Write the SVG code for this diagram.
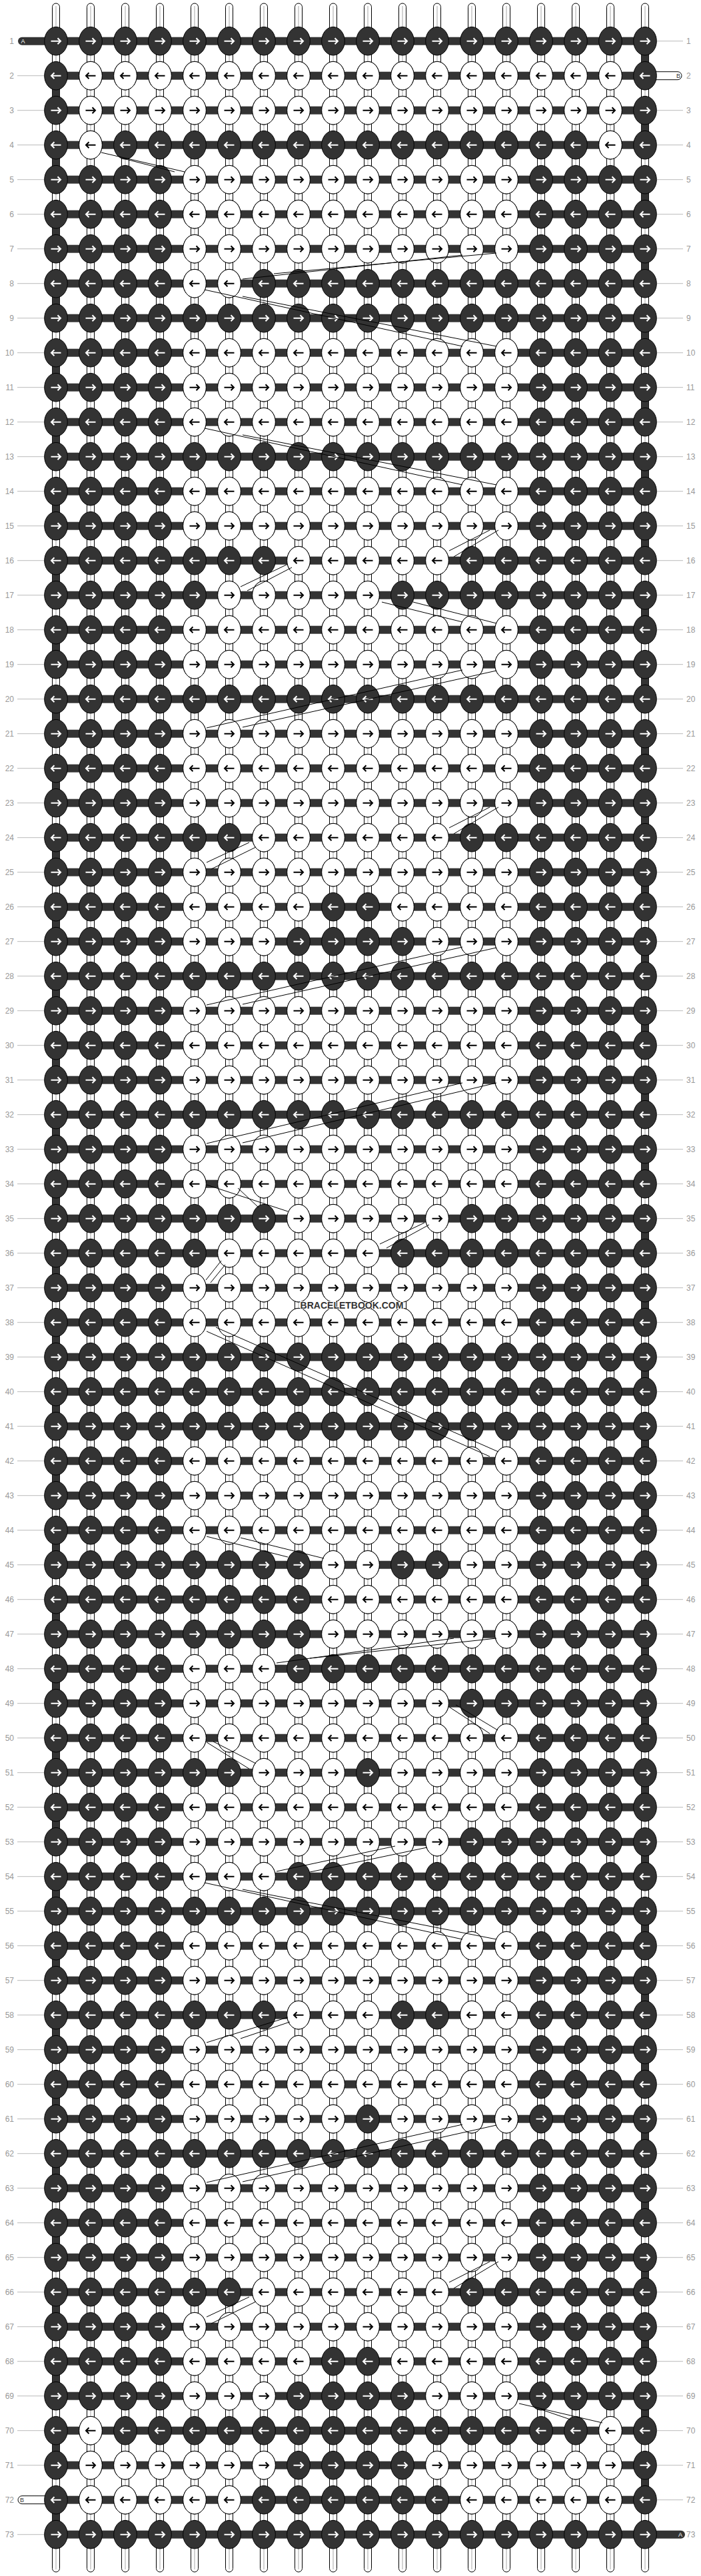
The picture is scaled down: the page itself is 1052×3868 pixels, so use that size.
<svg xmlns="http://www.w3.org/2000/svg" width="1052" height="3868" viewBox="0 0 1052 3868">
<style>
.kd{fill:#333;stroke:#000;stroke-width:1}
.kl{fill:#fff;stroke:#000;stroke-width:1}
.aw{fill:none;stroke:#fff;stroke-width:2}
.ab{fill:none;stroke:#000;stroke-width:2}
.bar{fill:#333}
.stw{fill:#fff;stroke:#000;stroke-width:1}
.tube{fill:#fff;stroke:#000;stroke-width:1}
.core{stroke:#c4c4c4;stroke-width:1.5}
.edge{stroke:#333;stroke-width:11;stroke-dasharray:52 52;fill:none}
.tk{stroke:#bbb;stroke-width:1;fill:none}
.ln,.rn{font-family:"Liberation Sans",Arial,sans-serif;font-size:12px;fill:#999}
.ln{text-anchor:end}
.sl{font-family:"Liberation Sans",Arial,sans-serif;font-size:9px}
.rib{stroke:#000;stroke-width:1;fill:none}
.wm{font-family:"Liberation Sans",Arial,sans-serif;font-size:14px;font-weight:bold;fill:#333;text-anchor:middle;stroke:#fff;stroke-width:2;paint-order:stroke}
</style>
<defs>
<g id="DR"><ellipse class="kd" rx="17.3" ry="21.3"/><path class="aw" d="M-7.5,0H7M2.5,-4.5L7,0L2.5,4.5"/></g>
<g id="DL"><ellipse class="kd" rx="17.3" ry="21.3"/><path class="aw" d="M7.5,0H-7M-2.5,-4.5L-7,0L-2.5,4.5"/></g>
<g id="LR"><ellipse class="kl" rx="17.3" ry="21.3"/><path class="ab" d="M-7.5,0H7M2.5,-4.5L7,0L2.5,4.5"/></g>
<g id="LL"><ellipse class="kl" rx="17.3" ry="21.3"/><path class="ab" d="M7.5,0H-7M-2.5,-4.5L-7,0L-2.5,4.5"/></g>
<g id="d2o"><use href="#DR"/><use href="#DR" x="52"/></g>
<g id="d4o"><use href="#d2o"/><use href="#d2o" x="104"/></g>
<g id="d8o"><use href="#d4o"/><use href="#d4o" x="208"/></g>
<g id="RO"><rect class="bar" x="0" y="-6" width="884" height="12"/><use href="#d8o"/><use href="#d8o" x="416"/><use href="#d2o" x="832"/></g>
<g id="d2e"><use href="#DL"/><use href="#DL" x="52"/></g>
<g id="d4e"><use href="#d2e"/><use href="#d2e" x="104"/></g>
<g id="d8e"><use href="#d4e"/><use href="#d4e" x="208"/></g>
<g id="RE"><rect class="bar" x="0" y="-6" width="884" height="12"/><use href="#d8e"/><use href="#d8e" x="416"/><use href="#d2e" x="832"/></g>
<g id="o2"><use href="#LR"/><use href="#LR" x="52"/></g>
<g id="o3"><use href="#o2"/><use href="#LR" x="104"/></g>
<g id="o4"><use href="#o2"/><use href="#o2" x="104"/></g>
<g id="o5"><use href="#o4"/><use href="#LR" x="208"/></g>
<g id="o6"><use href="#o4"/><use href="#o2" x="208"/></g>
<g id="o8"><use href="#o4"/><use href="#o4" x="208"/></g>
<g id="o10"><use href="#o8"/><use href="#o2" x="416"/></g>
<g id="o16"><use href="#o8"/><use href="#o8" x="416"/></g>
<g id="e2"><use href="#LL"/><use href="#LL" x="52"/></g>
<g id="e3"><use href="#e2"/><use href="#LL" x="104"/></g>
<g id="e4"><use href="#e2"/><use href="#e2" x="104"/></g>
<g id="e5"><use href="#e4"/><use href="#LL" x="208"/></g>
<g id="e6"><use href="#e4"/><use href="#e2" x="208"/></g>
<g id="e8"><use href="#e4"/><use href="#e4" x="208"/></g>
<g id="e10"><use href="#e8"/><use href="#e2" x="416"/></g>
<g id="e16"><use href="#e8"/><use href="#e8" x="416"/></g>
<path id="tk" class="tk" d="M-58,0H-17M902,0H941"/>
<g id="st"><rect class="tube" x="-5.5" y="5" width="11" height="3857" rx="5.5"/><line class="core" x1="0" y1="9" x2="0" y2="3858"/></g>
</defs>
<rect width="1052" height="3868" fill="#fff"/>
<g id="strands">
<use href="#st" x="84"/><use href="#st" x="136"/><use href="#st" x="188"/><use href="#st" x="240"/><use href="#st" x="292"/><use href="#st" x="344"/><use href="#st" x="396"/><use href="#st" x="448"/><use href="#st" x="500"/><use href="#st" x="552"/><use href="#st" x="604"/><use href="#st" x="656"/><use href="#st" x="708"/><use href="#st" x="760"/><use href="#st" x="812"/><use href="#st" x="864"/><use href="#st" x="916"/><use href="#st" x="968"/>
<line class="edge" x1="84" y1="113.7" x2="84" y2="3805.7"/>
<line class="edge" x1="968" y1="61.7" x2="968" y2="3753.7"/>
</g>
<g id="rows">
<g id="row-1" transform="translate(84 61.7)"><path class="tk" d="M902,0H941"/><rect class="bar" x="-57" y="-6" width="60" height="12" rx="6"/><text class="sl" x="-52.5" y="3.5" fill="#fff">A</text><use href="#RO"/><text class="ln" x="-63" y="4">1</text><text class="rn" x="946" y="4">1</text></g>
<g id="row-2" transform="translate(84 113.7)"><path class="tk" d="M-58,0H-17"/><rect class="stw" x="880" y="-6" width="59" height="12" rx="6"/><text class="sl" x="931" y="3.5" fill="#333">B</text><use href="#RE"/><use href="#e16" x="52"/><text class="ln" x="-63" y="4">2</text><text class="rn" x="946" y="4">2</text></g>
<g id="row-3" transform="translate(84 165.7)"><use href="#tk"/><use href="#RO"/><use href="#o16" x="52"/><text class="ln" x="-63" y="4">3</text><text class="rn" x="946" y="4">3</text></g>
<g id="row-4" transform="translate(84 217.7)"><use href="#tk"/><use href="#RE"/><use href="#LL" x="52"/><use href="#LL" x="832"/><text class="ln" x="-63" y="4">4</text><text class="rn" x="946" y="4">4</text></g>
<g id="row-5" transform="translate(84 269.7)"><use href="#tk"/><use href="#RO"/><use href="#o10" x="208"/><text class="ln" x="-63" y="4">5</text><text class="rn" x="946" y="4">5</text></g>
<g id="row-6" transform="translate(84 321.7)"><use href="#tk"/><use href="#RE"/><use href="#e10" x="208"/><text class="ln" x="-63" y="4">6</text><text class="rn" x="946" y="4">6</text></g>
<g id="row-7" transform="translate(84 373.7)"><use href="#tk"/><use href="#RO"/><use href="#o10" x="208"/><text class="ln" x="-63" y="4">7</text><text class="rn" x="946" y="4">7</text></g>
<g id="row-8" transform="translate(84 425.7)"><use href="#tk"/><use href="#RE"/><use href="#e2" x="208"/><text class="ln" x="-63" y="4">8</text><text class="rn" x="946" y="4">8</text></g>
<g id="row-9" transform="translate(84 477.7)"><use href="#tk"/><use href="#RO"/><text class="ln" x="-63" y="4">9</text><text class="rn" x="946" y="4">9</text></g>
<g id="row-10" transform="translate(84 529.7)"><use href="#tk"/><use href="#RE"/><use href="#e10" x="208"/><text class="ln" x="-63" y="4">10</text><text class="rn" x="946" y="4">10</text></g>
<g id="row-11" transform="translate(84 581.7)"><use href="#tk"/><use href="#RO"/><use href="#o10" x="208"/><text class="ln" x="-63" y="4">11</text><text class="rn" x="946" y="4">11</text></g>
<g id="row-12" transform="translate(84 633.7)"><use href="#tk"/><use href="#RE"/><use href="#e10" x="208"/><text class="ln" x="-63" y="4">12</text><text class="rn" x="946" y="4">12</text></g>
<g id="row-13" transform="translate(84 685.7)"><use href="#tk"/><use href="#RO"/><text class="ln" x="-63" y="4">13</text><text class="rn" x="946" y="4">13</text></g>
<g id="row-14" transform="translate(84 737.7)"><use href="#tk"/><use href="#RE"/><use href="#e10" x="208"/><text class="ln" x="-63" y="4">14</text><text class="rn" x="946" y="4">14</text></g>
<g id="row-15" transform="translate(84 789.7)"><use href="#tk"/><use href="#RO"/><use href="#o10" x="208"/><text class="ln" x="-63" y="4">15</text><text class="rn" x="946" y="4">15</text></g>
<g id="row-16" transform="translate(84 841.7)"><use href="#tk"/><use href="#RE"/><use href="#e5" x="364"/><text class="ln" x="-63" y="4">16</text><text class="rn" x="946" y="4">16</text></g>
<g id="row-17" transform="translate(84 893.7)"><use href="#tk"/><use href="#RO"/><use href="#o5" x="260"/><text class="ln" x="-63" y="4">17</text><text class="rn" x="946" y="4">17</text></g>
<g id="row-18" transform="translate(84 945.7)"><use href="#tk"/><use href="#RE"/><use href="#e10" x="208"/><text class="ln" x="-63" y="4">18</text><text class="rn" x="946" y="4">18</text></g>
<g id="row-19" transform="translate(84 997.7)"><use href="#tk"/><use href="#RO"/><use href="#o10" x="208"/><text class="ln" x="-63" y="4">19</text><text class="rn" x="946" y="4">19</text></g>
<g id="row-20" transform="translate(84 1049.7)"><use href="#tk"/><use href="#RE"/><text class="ln" x="-63" y="4">20</text><text class="rn" x="946" y="4">20</text></g>
<g id="row-21" transform="translate(84 1101.7)"><use href="#tk"/><use href="#RO"/><use href="#o10" x="208"/><text class="ln" x="-63" y="4">21</text><text class="rn" x="946" y="4">21</text></g>
<g id="row-22" transform="translate(84 1153.7)"><use href="#tk"/><use href="#RE"/><use href="#e10" x="208"/><text class="ln" x="-63" y="4">22</text><text class="rn" x="946" y="4">22</text></g>
<g id="row-23" transform="translate(84 1205.7)"><use href="#tk"/><use href="#RO"/><use href="#o10" x="208"/><text class="ln" x="-63" y="4">23</text><text class="rn" x="946" y="4">23</text></g>
<g id="row-24" transform="translate(84 1257.7)"><use href="#tk"/><use href="#RE"/><use href="#e6" x="312"/><text class="ln" x="-63" y="4">24</text><text class="rn" x="946" y="4">24</text></g>
<g id="row-25" transform="translate(84 1309.7)"><use href="#tk"/><use href="#RO"/><use href="#o10" x="208"/><text class="ln" x="-63" y="4">25</text><text class="rn" x="946" y="4">25</text></g>
<g id="row-26" transform="translate(84 1361.7)"><use href="#tk"/><use href="#RE"/><use href="#e4" x="208"/><use href="#e4" x="520"/><text class="ln" x="-63" y="4">26</text><text class="rn" x="946" y="4">26</text></g>
<g id="row-27" transform="translate(84 1413.7)"><use href="#tk"/><use href="#RO"/><use href="#o3" x="208"/><use href="#o3" x="572"/><text class="ln" x="-63" y="4">27</text><text class="rn" x="946" y="4">27</text></g>
<g id="row-28" transform="translate(84 1465.7)"><use href="#tk"/><use href="#RE"/><text class="ln" x="-63" y="4">28</text><text class="rn" x="946" y="4">28</text></g>
<g id="row-29" transform="translate(84 1517.7)"><use href="#tk"/><use href="#RO"/><use href="#o10" x="208"/><text class="ln" x="-63" y="4">29</text><text class="rn" x="946" y="4">29</text></g>
<g id="row-30" transform="translate(84 1569.7)"><use href="#tk"/><use href="#RE"/><use href="#e10" x="208"/><text class="ln" x="-63" y="4">30</text><text class="rn" x="946" y="4">30</text></g>
<g id="row-31" transform="translate(84 1621.7)"><use href="#tk"/><use href="#RO"/><use href="#o10" x="208"/><text class="ln" x="-63" y="4">31</text><text class="rn" x="946" y="4">31</text></g>
<g id="row-32" transform="translate(84 1673.7)"><use href="#tk"/><use href="#RE"/><text class="ln" x="-63" y="4">32</text><text class="rn" x="946" y="4">32</text></g>
<g id="row-33" transform="translate(84 1725.7)"><use href="#tk"/><use href="#RO"/><use href="#o10" x="208"/><text class="ln" x="-63" y="4">33</text><text class="rn" x="946" y="4">33</text></g>
<g id="row-34" transform="translate(84 1777.7)"><use href="#tk"/><use href="#RE"/><use href="#e10" x="208"/><text class="ln" x="-63" y="4">34</text><text class="rn" x="946" y="4">34</text></g>
<g id="row-35" transform="translate(84 1829.7)"><use href="#tk"/><use href="#RO"/><use href="#o5" x="364"/><text class="ln" x="-63" y="4">35</text><text class="rn" x="946" y="4">35</text></g>
<g id="row-36" transform="translate(84 1881.7)"><use href="#tk"/><use href="#RE"/><use href="#e5" x="260"/><text class="ln" x="-63" y="4">36</text><text class="rn" x="946" y="4">36</text></g>
<g id="row-37" transform="translate(84 1933.7)"><use href="#tk"/><use href="#RO"/><use href="#o10" x="208"/><text class="ln" x="-63" y="4">37</text><text class="rn" x="946" y="4">37</text></g>
<g id="row-38" transform="translate(84 1985.7)"><use href="#tk"/><use href="#RE"/><use href="#e10" x="208"/><text class="ln" x="-63" y="4">38</text><text class="rn" x="946" y="4">38</text></g>
<g id="row-39" transform="translate(84 2037.7)"><use href="#tk"/><use href="#RO"/><text class="ln" x="-63" y="4">39</text><text class="rn" x="946" y="4">39</text></g>
<g id="row-40" transform="translate(84 2089.7)"><use href="#tk"/><use href="#RE"/><text class="ln" x="-63" y="4">40</text><text class="rn" x="946" y="4">40</text></g>
<g id="row-41" transform="translate(84 2141.7)"><use href="#tk"/><use href="#RO"/><text class="ln" x="-63" y="4">41</text><text class="rn" x="946" y="4">41</text></g>
<g id="row-42" transform="translate(84 2193.7)"><use href="#tk"/><use href="#RE"/><use href="#e10" x="208"/><text class="ln" x="-63" y="4">42</text><text class="rn" x="946" y="4">42</text></g>
<g id="row-43" transform="translate(84 2245.7)"><use href="#tk"/><use href="#RO"/><use href="#o10" x="208"/><text class="ln" x="-63" y="4">43</text><text class="rn" x="946" y="4">43</text></g>
<g id="row-44" transform="translate(84 2297.7)"><use href="#tk"/><use href="#RE"/><use href="#e10" x="208"/><text class="ln" x="-63" y="4">44</text><text class="rn" x="946" y="4">44</text></g>
<g id="row-45" transform="translate(84 2349.7)"><use href="#tk"/><use href="#RO"/><use href="#o2" x="416"/><use href="#o2" x="624"/><text class="ln" x="-63" y="4">45</text><text class="rn" x="946" y="4">45</text></g>
<g id="row-46" transform="translate(84 2401.7)"><use href="#tk"/><use href="#RE"/><use href="#e6" x="416"/><text class="ln" x="-63" y="4">46</text><text class="rn" x="946" y="4">46</text></g>
<g id="row-47" transform="translate(84 2453.7)"><use href="#tk"/><use href="#RO"/><use href="#o6" x="416"/><text class="ln" x="-63" y="4">47</text><text class="rn" x="946" y="4">47</text></g>
<g id="row-48" transform="translate(84 2505.7)"><use href="#tk"/><use href="#RE"/><use href="#e3" x="208"/><text class="ln" x="-63" y="4">48</text><text class="rn" x="946" y="4">48</text></g>
<g id="row-49" transform="translate(84 2557.7)"><use href="#tk"/><use href="#RO"/><use href="#o8" x="208"/><text class="ln" x="-63" y="4">49</text><text class="rn" x="946" y="4">49</text></g>
<g id="row-50" transform="translate(84 2609.7)"><use href="#tk"/><use href="#RE"/><use href="#e10" x="208"/><text class="ln" x="-63" y="4">50</text><text class="rn" x="946" y="4">50</text></g>
<g id="row-51" transform="translate(84 2661.7)"><use href="#tk"/><use href="#RO"/><use href="#o3" x="312"/><use href="#o4" x="520"/><text class="ln" x="-63" y="4">51</text><text class="rn" x="946" y="4">51</text></g>
<g id="row-52" transform="translate(84 2713.7)"><use href="#tk"/><use href="#RE"/><use href="#e10" x="208"/><text class="ln" x="-63" y="4">52</text><text class="rn" x="946" y="4">52</text></g>
<g id="row-53" transform="translate(84 2765.7)"><use href="#tk"/><use href="#RO"/><use href="#o8" x="208"/><text class="ln" x="-63" y="4">53</text><text class="rn" x="946" y="4">53</text></g>
<g id="row-54" transform="translate(84 2817.7)"><use href="#tk"/><use href="#RE"/><use href="#e3" x="208"/><text class="ln" x="-63" y="4">54</text><text class="rn" x="946" y="4">54</text></g>
<g id="row-55" transform="translate(84 2869.7)"><use href="#tk"/><use href="#RO"/><text class="ln" x="-63" y="4">55</text><text class="rn" x="946" y="4">55</text></g>
<g id="row-56" transform="translate(84 2921.7)"><use href="#tk"/><use href="#RE"/><use href="#e10" x="208"/><text class="ln" x="-63" y="4">56</text><text class="rn" x="946" y="4">56</text></g>
<g id="row-57" transform="translate(84 2973.7)"><use href="#tk"/><use href="#RO"/><use href="#o10" x="208"/><text class="ln" x="-63" y="4">57</text><text class="rn" x="946" y="4">57</text></g>
<g id="row-58" transform="translate(84 3025.7)"><use href="#tk"/><use href="#RE"/><use href="#e3" x="364"/><use href="#e2" x="624"/><text class="ln" x="-63" y="4">58</text><text class="rn" x="946" y="4">58</text></g>
<g id="row-59" transform="translate(84 3077.7)"><use href="#tk"/><use href="#RO"/><use href="#o10" x="208"/><text class="ln" x="-63" y="4">59</text><text class="rn" x="946" y="4">59</text></g>
<g id="row-60" transform="translate(84 3129.7)"><use href="#tk"/><use href="#RE"/><use href="#e10" x="208"/><text class="ln" x="-63" y="4">60</text><text class="rn" x="946" y="4">60</text></g>
<g id="row-61" transform="translate(84 3181.7)"><use href="#tk"/><use href="#RO"/><use href="#o5" x="208"/><use href="#o4" x="520"/><text class="ln" x="-63" y="4">61</text><text class="rn" x="946" y="4">61</text></g>
<g id="row-62" transform="translate(84 3233.7)"><use href="#tk"/><use href="#RE"/><text class="ln" x="-63" y="4">62</text><text class="rn" x="946" y="4">62</text></g>
<g id="row-63" transform="translate(84 3285.7)"><use href="#tk"/><use href="#RO"/><use href="#o10" x="208"/><text class="ln" x="-63" y="4">63</text><text class="rn" x="946" y="4">63</text></g>
<g id="row-64" transform="translate(84 3337.7)"><use href="#tk"/><use href="#RE"/><use href="#e10" x="208"/><text class="ln" x="-63" y="4">64</text><text class="rn" x="946" y="4">64</text></g>
<g id="row-65" transform="translate(84 3389.7)"><use href="#tk"/><use href="#RO"/><use href="#o10" x="208"/><text class="ln" x="-63" y="4">65</text><text class="rn" x="946" y="4">65</text></g>
<g id="row-66" transform="translate(84 3441.7)"><use href="#tk"/><use href="#RE"/><use href="#e6" x="312"/><text class="ln" x="-63" y="4">66</text><text class="rn" x="946" y="4">66</text></g>
<g id="row-67" transform="translate(84 3493.7)"><use href="#tk"/><use href="#RO"/><use href="#o10" x="208"/><text class="ln" x="-63" y="4">67</text><text class="rn" x="946" y="4">67</text></g>
<g id="row-68" transform="translate(84 3545.7)"><use href="#tk"/><use href="#RE"/><use href="#e4" x="208"/><use href="#e4" x="520"/><text class="ln" x="-63" y="4">68</text><text class="rn" x="946" y="4">68</text></g>
<g id="row-69" transform="translate(84 3597.7)"><use href="#tk"/><use href="#RO"/><use href="#o3" x="208"/><use href="#o3" x="572"/><text class="ln" x="-63" y="4">69</text><text class="rn" x="946" y="4">69</text></g>
<g id="row-70" transform="translate(84 3649.7)"><use href="#tk"/><use href="#RE"/><use href="#LL" x="52"/><use href="#LL" x="832"/><text class="ln" x="-63" y="4">70</text><text class="rn" x="946" y="4">70</text></g>
<g id="row-71" transform="translate(84 3701.7)"><use href="#tk"/><use href="#RO"/><use href="#o6" x="52"/><use href="#o6" x="572"/><text class="ln" x="-63" y="4">71</text><text class="rn" x="946" y="4">71</text></g>
<g id="row-72" transform="translate(84 3753.7)"><path class="tk" d="M902,0H941"/><rect class="stw" x="-57" y="-6" width="60" height="12" rx="6"/><text class="sl" x="-54" y="3.5" fill="#333">B</text><use href="#RE"/><use href="#e5" x="52"/><use href="#e5" x="624"/><text class="ln" x="-63" y="4">72</text><text class="rn" x="946" y="4">72</text></g>
<g id="row-73" transform="translate(84 3805.7)"><path class="tk" d="M-58,0H-17"/><rect class="bar" x="880" y="-6" width="64" height="12" rx="6"/><use href="#RO"/><text class="sl" x="934" y="3.5" fill="#fff">A</text><text class="ln" x="-63" y="4">73</text><text class="rn" x="946" y="4">73</text></g>
</g>
<g id="connectors">
<path class="rib" d="M152,229L277,258M185,238L262,258"/>
<path class="rib" d="M364,419L694,383M411,411L745,380"/>
<path class="rib" d="M307,435L694,520M364,445L745,520"/>
<path class="rib" d="M307,643L694,728M364,653L745,728"/>
<path class="rib" d="M674,827L735,796M681,836L748,796"/>
<path class="rib" d="M432,847L361,881M438,852L371,887"/>
<path class="rib" d="M573,904L694,934M620,904L745,936"/>
<path class="rib" d="M694,1006L310,1093M745,1007L364,1092"/>
<path class="rib" d="M674,1243L735,1212M681,1252L748,1212"/>
<path class="rib" d="M374,1265L310,1295M384,1272L317,1305"/>
<path class="rib" d="M694,1422L310,1509M745,1423L364,1508"/>
<path class="rib" d="M694,1626L310,1717M745,1626L364,1716"/>
<path class="rib" d="M310,1779L432,1819M357,1784L388,1813"/>
<path class="rib" d="M637,1836L570,1868M644,1839L580,1874"/>
<path class="rib" d="M332,1893L309,1922M338,1899L316,1926"/>
<path class="rib" d="M310,1999L735,2187M324,1993L748,2180"/>
<path class="rib" d="M310,2307L432,2338M361,2309L486,2340"/>
<path class="rib" d="M415,2497L681,2460M465,2490L745,2460"/>
<path class="rib" d="M674,2563L735,2603M684,2560L747,2598"/>
<path class="rib" d="M310,2616L374,2656M320,2615L384,2648"/>
<path class="rib" d="M415,2810L593,2772M465,2811L641,2774"/>
<path class="rib" d="M307,2827L694,2912M364,2837L745,2912"/>
<path class="rib" d="M432,3029L310,3067M435,3036L361,3061"/>
<path class="rib" d="M694,3190L310,3277M745,3191L364,3276"/>
<path class="rib" d="M674,3427L735,3396M681,3436L748,3396"/>
<path class="rib" d="M374,3449L310,3479M384,3456L317,3489"/>
<path class="rib" d="M779,3609L904,3638M812,3618L856,3633"/>
</g>
<text class="wm" x="528" y="1964.5">BRACELETBOOK.COM</text>
</svg>
